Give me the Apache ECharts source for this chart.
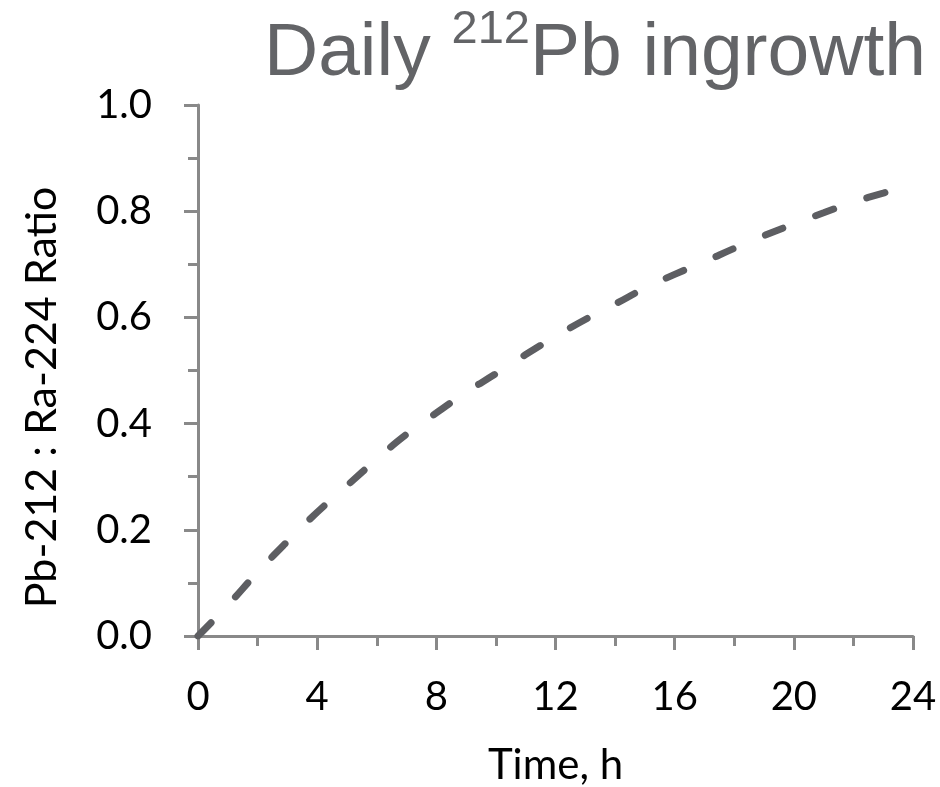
<!DOCTYPE html>
<html>
<head>
<meta charset="utf-8">
<title>Daily 212Pb ingrowth</title>
<script src="https://cdn.jsdelivr.net/npm/echarts@6/dist/echarts.min.js"></script>
<style>
  html, body { margin: 0; padding: 0; background: #ffffff; }
  #chart { width: 940px; height: 787px; }
</style>
</head>
<body>
<div id="chart"></div>
<script>
// Pb-212 : Ra-224 activity ratio over one day of ingrowth
const timeHours = [0, 1, 2, 3, 4, 5, 6, 7, 8, 9, 10, 11, 12,
                   13, 14, 15, 16, 17, 18, 19, 20, 21, 22, 23, 24];
const ratioValues = [0.000, 0.058, 0.120, 0.178, 0.233, 0.283, 0.333, 0.380, 0.420,
                     0.459, 0.494, 0.530, 0.564, 0.596, 0.625, 0.655, 0.681,
                     0.705, 0.730, 0.754, 0.776, 0.797, 0.817, 0.834, 0.850];
const xTicks = { min: 0, max: 24, step: 4 };
const yTicks = { min: 0, max: 1, step: 0.2 };

const titleText = { before: 'Daily ', sup: '212', after: 'Pb ingrowth' };
const xAxisTitle = 'Time, h';
const yAxisTitle = 'Pb-212 : Ra-224 Ratio';

const points = timeHours.map((t, i) => [t, ratioValues[i]]);

const axisGrey = '#898989';
const labelFont = 'Lato, "Open Sans", sans-serif';
const titleFont = '"Liberation Sans", Arial, sans-serif';

const chart = echarts.init(document.getElementById('chart'), null, { renderer: 'canvas' });

chart.setOption({
  backgroundColor: '#ffffff',
  animation: false,
  title: {
    text: '{m|' + titleText.before + '}{s|' + titleText.sup + '}{m|' + titleText.after + '}',
    right: 9,
    top: 2,
    textStyle: {
      fontWeight: 'normal',
      rich: {
        m: {
          fontFamily: titleFont,
          fontWeight: 'normal',
          fontSize: 75,
          color: '#636467',
          lineHeight: 85,
          verticalAlign: 'bottom'
        },
        s: {
          fontFamily: titleFont,
          fontWeight: 'normal',
          fontSize: 47,
          color: '#636467',
          lineHeight: 54,
          verticalAlign: 'top'
        }
      }
    }
  },
  grid: {
    left: 198,
    right: 27,
    top: 105,
    bottom: 151,
    containLabel: false,
    outerBoundsMode: 'none'
  },
  xAxis: {
    type: 'value',
    min: xTicks.min,
    max: xTicks.max,
    interval: xTicks.step,
    name: xAxisTitle,
    nameLocation: 'middle',
    nameGap: 108,
    nameTextStyle: { fontFamily: labelFont, fontSize: 42, color: '#000000' },
    axisLine: { show: true, lineStyle: { color: axisGrey, width: 3 } },
    axisTick: { show: true, inside: false, length: 14, lineStyle: { color: axisGrey, width: 3 } },
    minorTick: { show: true, splitNumber: 2, length: 10, lineStyle: { color: axisGrey, width: 3 } },
    splitLine: { show: false },
    axisLabel: { fontFamily: labelFont, fontSize: 40, color: '#000000', margin: 41 }
  },
  yAxis: {
    type: 'value',
    min: yTicks.min,
    max: yTicks.max,
    interval: yTicks.step,
    name: yAxisTitle,
    nameLocation: 'middle',
    nameGap: 134,
    nameTextStyle: {
      fontFamily: labelFont,
      fontSize: 43,
      color: '#000000',
      padding: [0, 54, 0, 0]
    },
    axisLine: { show: true, lineStyle: { color: axisGrey, width: 3 } },
    axisTick: { show: true, inside: false, length: 14, lineStyle: { color: axisGrey, width: 3 } },
    minorTick: { show: true, splitNumber: 2, length: 10, lineStyle: { color: axisGrey, width: 3 } },
    splitLine: { show: false },
    axisLabel: {
      fontFamily: labelFont,
      fontSize: 40,
      color: '#000000',
      margin: 46,
      formatter: v => v.toFixed(1)
    }
  },
  series: [{
    type: 'line',
    data: points,
    smooth: true,
    showSymbol: false,
    symbol: 'none',
    lineStyle: {
      color: '#5d5e62',
      width: 7,
      type: [19, 35],
      cap: 'round'
    }
  }]
});
</script>
</body>
</html>
